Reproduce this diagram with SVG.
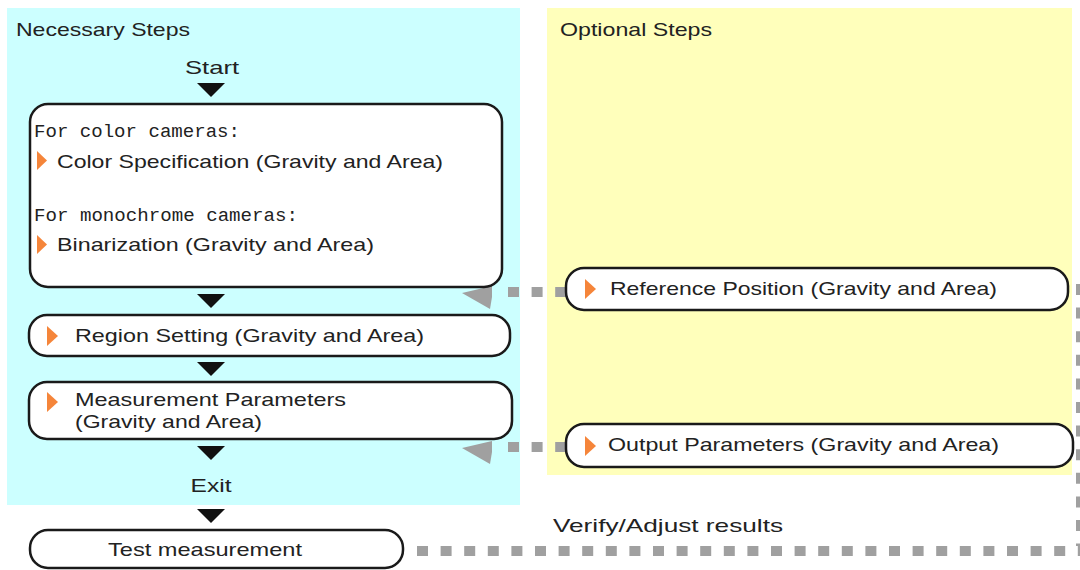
<svg xmlns="http://www.w3.org/2000/svg" width="1080" height="570" viewBox="0 0 1080 570">
<style>
.t{font-family:"Liberation Sans",Arial,sans-serif;font-size:19px;fill:#222}
.m{font-family:"Liberation Mono","DejaVu Sans Mono",monospace;font-size:19px;fill:#222}
.box{fill:#fff;stroke:#1a1a1a;stroke-width:2.5}
.tri{fill:#111}
.or{fill:#f5853a}
.dash{stroke:#a0a0a0;stroke-width:10;fill:none;stroke-dasharray:11 12.6}
.head{fill:#a0a0a0}
</style>
<rect x="0" y="0" width="1080" height="570" fill="#fff"/>
<g id="panel-necessary">
<rect x="7" y="8" width="513" height="497" fill="#ccffff"/>
<text class="t" x="16" y="36" textLength="174" lengthAdjust="spacingAndGlyphs">Necessary Steps</text>
</g>
<g id="panel-optional">
<rect x="547" y="8" width="525" height="467" fill="#ffffbb"/>
<text class="t" x="560" y="36" textLength="152" lengthAdjust="spacingAndGlyphs">Optional Steps</text>
</g>
<g id="connectors">
<polygon class="tri" points="197,83 225,83 211,97"/>
<polygon class="tri" points="197,294 225,294 211,308"/>
<polygon class="tri" points="197,362 225,362 211,376"/>
<polygon class="tri" points="197,446 225,446 211,460"/>
<polygon class="tri" points="197,509 225,509 211,523"/>
<line class="dash" x1="508" y1="292" x2="566" y2="292" stroke-dasharray="10 17"/>
<polygon class="head" points="462,293 492,286 492,297 490,309"/>
<line class="dash" x1="508" y1="447" x2="566" y2="447" stroke-dasharray="10 17"/>
<polygon class="head" points="462,448 492,441 492,452 490,464"/>
<line class="dash" x1="1081" y1="284" x2="1081" y2="546" stroke-width="9"/>
<line class="dash" x1="417" y1="551" x2="1080" y2="551"/>
<text class="t" x="553" y="532" textLength="230" lengthAdjust="spacingAndGlyphs">Verify/Adjust results</text>
</g>
<g id="start">
<text class="t" x="212" y="74" text-anchor="middle" textLength="54" lengthAdjust="spacingAndGlyphs">Start</text>
</g>
<g id="camera-settings">
<rect class="box" x="30" y="104" width="472" height="183" rx="18"/>
<text class="m" x="34" y="137" textLength="206" lengthAdjust="spacingAndGlyphs">For color cameras:</text>
<polygon class="or" points="37,151 47,160.5 37,170"/>
<text class="t" x="57" y="168" textLength="386" lengthAdjust="spacingAndGlyphs">Color Specification (Gravity and Area)</text>
<text class="m" x="34" y="221" textLength="264" lengthAdjust="spacingAndGlyphs">For monochrome cameras:</text>
<polygon class="or" points="37,235 47,244.5 37,254"/>
<text class="t" x="57" y="251" textLength="317" lengthAdjust="spacingAndGlyphs">Binarization (Gravity and Area)</text>
</g>
<g id="region-setting">
<rect class="box" x="29" y="315" width="481" height="41" rx="18"/>
<polygon class="or" points="47,326 58,336 47,346"/>
<text class="t" x="75" y="342" textLength="349" lengthAdjust="spacingAndGlyphs">Region Setting (Gravity and Area)</text>
</g>
<g id="measurement-parameters">
<rect class="box" x="29" y="382" width="483" height="57" rx="18"/>
<polygon class="or" points="47,392 58,402 47,412"/>
<text class="t" x="75" y="406" textLength="271" lengthAdjust="spacingAndGlyphs">Measurement Parameters</text>
<text class="t" x="75" y="428" textLength="187" lengthAdjust="spacingAndGlyphs">(Gravity and Area)</text>
</g>
<g id="exit">
<text class="t" x="211" y="492" text-anchor="middle" textLength="41" lengthAdjust="spacingAndGlyphs">Exit</text>
</g>
<g id="test-measurement">
<rect class="box" x="30" y="530" width="373" height="38" rx="18"/>
<text class="t" x="205" y="556" text-anchor="middle" textLength="194" lengthAdjust="spacingAndGlyphs">Test measurement</text>
</g>
<g id="reference-position">
<rect class="box" x="566" y="268" width="502" height="42" rx="18"/>
<polygon class="or" points="585,279 596,289 585,299"/>
<text class="t" x="610" y="295" textLength="387" lengthAdjust="spacingAndGlyphs">Reference Position (Gravity and Area)</text>
</g>
<g id="output-parameters">
<rect class="box" x="566" y="424" width="507" height="43" rx="18"/>
<polygon class="or" points="585,436 596,446 585,456"/>
<text class="t" x="608" y="451" textLength="391" lengthAdjust="spacingAndGlyphs">Output Parameters (Gravity and Area)</text>
</g>
</svg>
